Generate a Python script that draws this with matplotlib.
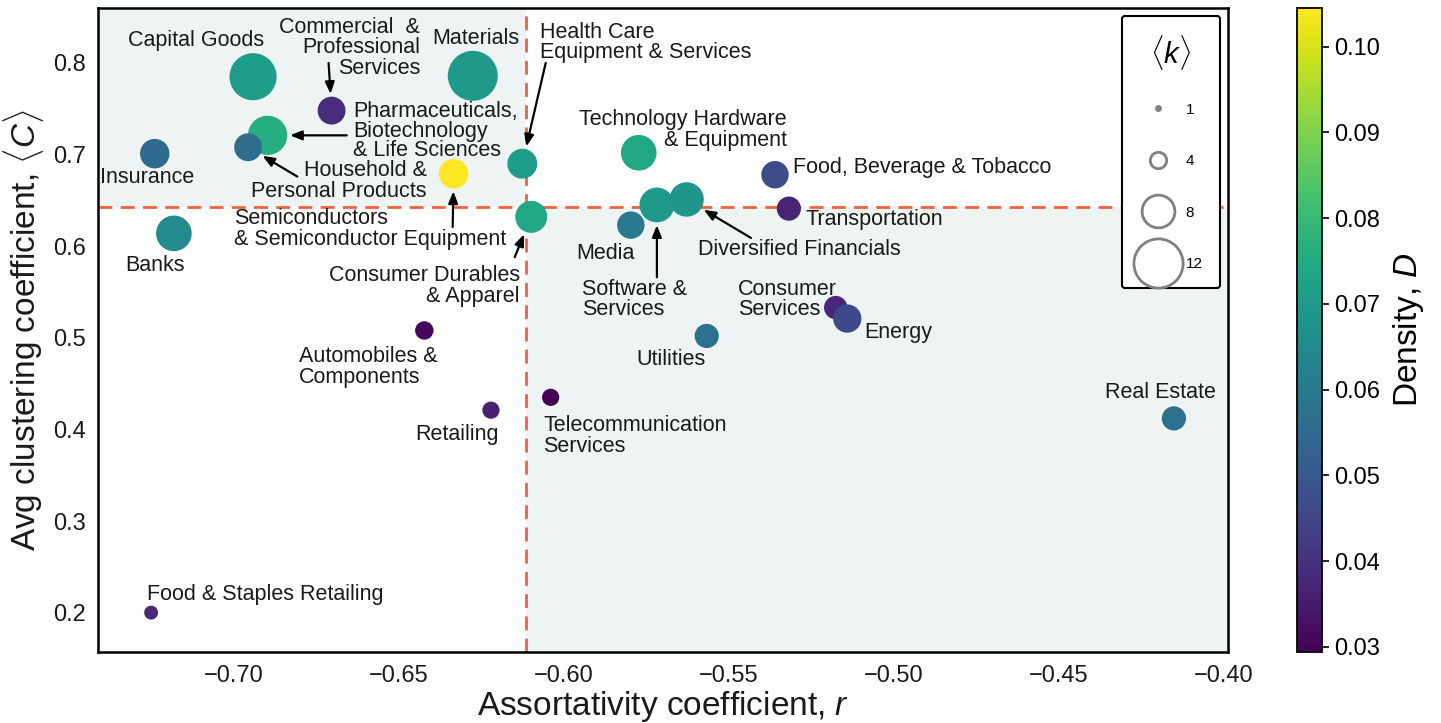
import matplotlib
matplotlib.use("Agg")
import matplotlib.pyplot as plt
import numpy as np
from matplotlib.patches import Rectangle
from matplotlib.lines import Line2D

plt.rcParams['font.family'] = ['Liberation Sans', 'DejaVu Sans']
plt.rcParams['mathtext.fontset'] = 'custom'
plt.rcParams['mathtext.rm'] = 'Liberation Sans'
plt.rcParams['mathtext.it'] = 'Liberation Sans:italic'

# ---------------- data ----------------
names = ["Capital Goods", "Materials", "Commercial & Professional Services",
         "Pharmaceuticals, Biotechnology & Life Sciences", "Household & Personal Products",
         "Insurance", "Health Care Equipment & Services",
         "Semiconductors & Semiconductor Equipment", "Consumer Durables & Apparel",
         "Banks", "Automobiles & Components", "Retailing", "Telecommunication Services",
         "Food & Staples Retailing", "Technology Hardware & Equipment",
         "Software & Services", "Diversified Financials", "Media",
         "Food, Beverage & Tobacco", "Transportation", "Consumer Services", "Energy",
         "Utilities", "Real Estate"]
assortativity = [-0.6941, -0.6275, -0.6703, -0.6897, -0.6956, -0.7239, -0.6125,
                 -0.6333, -0.6098, -0.7181, -0.6422, -0.6220, -0.6039, -0.7250,
                 -0.5772, -0.5717, -0.5627, -0.5796, -0.5359, -0.5317, -0.5175,
                 -0.5140, -0.5566, -0.4150]
clustering = [0.785, 0.786, 0.748, 0.721, 0.708, 0.701, 0.690, 0.679, 0.632, 0.614,
              0.508, 0.421, 0.435, 0.200, 0.702, 0.645, 0.651, 0.623, 0.678, 0.641,
              0.533, 0.521, 0.502, 0.412]
mean_degree = [11.5, 12.2, 6.8, 9.6, 6.8, 7.2, 7.3, 7.2, 7.8, 8.7, 4.5, 4.2, 4.2, 3.4,
               8.7, 8.5, 8.4, 6.7, 6.7, 5.9, 5.7, 6.9, 5.9, 5.9]
density = [0.071, 0.070, 0.039, 0.076, 0.056, 0.055, 0.071, 0.1045, 0.074, 0.065,
           0.031, 0.036, 0.0294, 0.038, 0.074, 0.070, 0.069, 0.060, 0.047, 0.037,
           0.038, 0.046, 0.057, 0.057]
legend_k = [1, 4, 8, 12]
mean_r = -0.6114
mean_c = 0.643

SIZE = 8.7

# label layout: (text, x, y, ha, multialign, arrow tail, linespacing)
labels = {
    "Capital Goods": ("Capital Goods", -0.7113, 0.824, "center", None, False, 1.0),
    "Materials": ("Materials", -0.6266, 0.827, "center", None, False, 1.0),
    "Commercial & Professional Services": ("Commercial  &\nProfessional\nServices", -0.6435, 0.8164, "right", "right", (-0.6712, 0.800), 0.98),
    "Pharmaceuticals, Biotechnology & Life Sciences": ("Pharmaceuticals,\nBiotechnology\n& Life Sciences", -0.6638, 0.7257, "left", "left", (-0.6657, 0.721), 0.88),
    "Household & Personal Products": ("Household &\nPersonal Products", -0.6415, 0.671, "right", "right", (-0.6807, 0.676), 0.98),
    "Insurance": ("Insurance", -0.7262, 0.675, "center", None, False, 1.0),
    "Health Care Equipment & Services": ("Health Care\nEquipment & Services", -0.6071, 0.822, "left", "left", (-0.6054, 0.800), 0.95),
    "Semiconductors & Semiconductor Equipment": ("Semiconductors\n& Semiconductor Equipment", -0.6998, 0.619, "left", "left", (-0.6336, 0.621), 0.98),
    "Consumer Durables & Apparel": ("Consumer Durables\n& Apparel", -0.6132, 0.556, "right", "right", (-0.6148, 0.588), 1.0),
    "Banks": ("Banks", -0.7238, 0.579, "center", None, False, 1.0),
    "Automobiles & Components": ("Automobiles &\nComponents", -0.6802, 0.468, "left", "left", False, 0.98),
    "Retailing": ("Retailing", -0.6323, 0.3945, "center", None, False, 1.0),
    "Telecommunication Services": ("Telecommunication\nServices", -0.6062, 0.393, "left", "left", False, 1.0),
    "Food & Staples Retailing": ("Food & Staples Retailing", -0.7262, 0.2197, "left", "left", False, 1.0),
    "Technology Hardware & Equipment": ("Technology Hardware\n& Equipment", -0.5323, 0.727, "right", "right", False, 0.98),
    "Software & Services": ("Software &\nServices", -0.5944, 0.542, "left", "left", (-0.5717, 0.566), 0.95),
    "Diversified Financials": ("Diversified Financials", -0.5593, 0.596, "left", None, (-0.5432, 0.609), 1.0),
    "Media": ("Media", -0.5872, 0.5923, "center", None, False, 1.0),
    "Food, Beverage & Tobacco": ("Food, Beverage & Tobacco", -0.5305, 0.686, "left", None, False, 1.0),
    "Transportation": ("Transportation", -0.5266, 0.6295, "left", None, False, 1.0),
    "Consumer Services": ("Consumer\nServices", -0.5471, 0.542, "left", "left", False, 0.95),
    "Energy": ("Energy", -0.5090, 0.506, "left", None, False, 1.0),
    "Utilities": ("Utilities", -0.5674, 0.4765, "center", None, False, 1.0),
    "Real Estate": ("Real Estate", -0.4192, 0.440, "center", None, False, 1.0),
}

# ---------------- figure ----------------
W, H = 1441, 723
fig = plt.figure(figsize=(W / 100, H / 100), dpi=100)
ax_l, ax_r, ax_t, ax_b = 98, 1228, 8, 652
ax = fig.add_axes([ax_l / W, 1 - ax_b / H, (ax_r - ax_l) / W, (ax_b - ax_t) / H])
cax = fig.add_axes([1297 / W, 1 - ax_b / H, 25 / W, (ax_b - ax_t) / H])

xlim = (-0.7411, -0.3986)
ylim = (0.157, 0.860)
ax.set_xlim(*xlim)
ax.set_ylim(*ylim)

shade = '#eef3f3'
ax.add_patch(Rectangle((xlim[0], mean_c), mean_r - xlim[0], ylim[1] - mean_c,
                       facecolor=shade, edgecolor='none', zorder=0))
ax.add_patch(Rectangle((mean_r, ylim[0]), xlim[1] - mean_r, mean_c - ylim[0],
                       facecolor=shade, edgecolor='none', zorder=0))
ax.axvline(mean_r, color='#f4603c', ls=(0, (5, 3)), lw=2, zorder=1)
ax.axhline(mean_c, color='#f4603c', ls=(0, (5, 3)), lw=2, zorder=1)

norm = matplotlib.colors.Normalize(vmin=0.0294, vmax=0.1045)
cmap = plt.get_cmap('viridis')
sizes = SIZE * np.array(mean_degree) ** 2
sc = ax.scatter(assortativity, clustering, s=sizes, c=density, cmap=cmap, norm=norm,
                edgecolors='none', zorder=3)

for i, n in enumerate(names):
    txt, tx, ty, ha, ma, arrow, lsp = labels[n]
    ax.text(tx, ty, txt, ha=ha, va='center', multialignment=ma or 'center',
            fontsize=15.5, linespacing=lsp, color='#1a1a1a', zorder=4)
    if arrow:
        radius = np.sqrt(sizes[i]) / 2
        ax.annotate('', xy=(assortativity[i], clustering[i]), xytext=arrow,
                    arrowprops=dict(arrowstyle='-|>,head_length=0.7,head_width=0.28',
                                    color='black', lw=1.6, shrinkA=0,
                                    shrinkB=radius + 2),
                    zorder=4)

ax.set_xticks([-0.70, -0.65, -0.60, -0.55, -0.50, -0.45, -0.40])
ax.set_xticklabels(['\u22120.70', '\u22120.65', '\u22120.60', '\u22120.55', '\u22120.50',
                    '\u22120.45', '\u22120.40'])
ax.set_yticks([0.2, 0.3, 0.4, 0.5, 0.6, 0.7, 0.8])
ax.tick_params(axis='both', length=0, labelsize=17, pad=9, labelcolor='#1a1a1a')
for sp in ax.spines.values():
    sp.set_linewidth(1.8)
    sp.set_color('black')
ax.set_xlabel('Assortativity coefficient, $r$', fontsize=24, labelpad=2, color='#1a1a1a')
ax.set_ylabel(r'Avg clustering coefficient, $\langle C\rangle$', fontsize=24, labelpad=5,
              color='#1a1a1a')

# legend
handles = [Line2D([], [], ls='none', marker='o', markersize=np.sqrt(SIZE) * k,
                  markerfacecolor='#808080' if k == 1 else 'white',
                  markeredgecolor='#808080', markeredgewidth=2)
           for k in legend_k]
leg = ax.legend(handles, [str(k) for k in legend_k], title=r'$\langle k\rangle$',
                loc='upper right', fontsize=11, title_fontsize=21, labelspacing=2.45,
                borderpad=1.1, handletextpad=0.5, borderaxespad=0.55, handlelength=2.6,
                frameon=True, fancybox=True, framealpha=1)
leg.get_frame().set_edgecolor('black')
leg.get_frame().set_linewidth(1.5)
leg._legend_box.sep = 22

# colorbar
cb = fig.colorbar(matplotlib.cm.ScalarMappable(norm=norm, cmap=cmap), cax=cax)
cb.set_ticks([0.03, 0.04, 0.05, 0.06, 0.07, 0.08, 0.09, 0.10])
cb.set_ticklabels(['0.03', '0.04', '0.05', '0.06', '0.07', '0.08', '0.09', '0.10'])
cb.ax.tick_params(labelsize=17, length=5, width=1.2)
cb.outline.set_linewidth(1.3)
cb.set_label('Density, $D$', fontsize=24, labelpad=8)

fig.savefig('out.png', dpi=100)
